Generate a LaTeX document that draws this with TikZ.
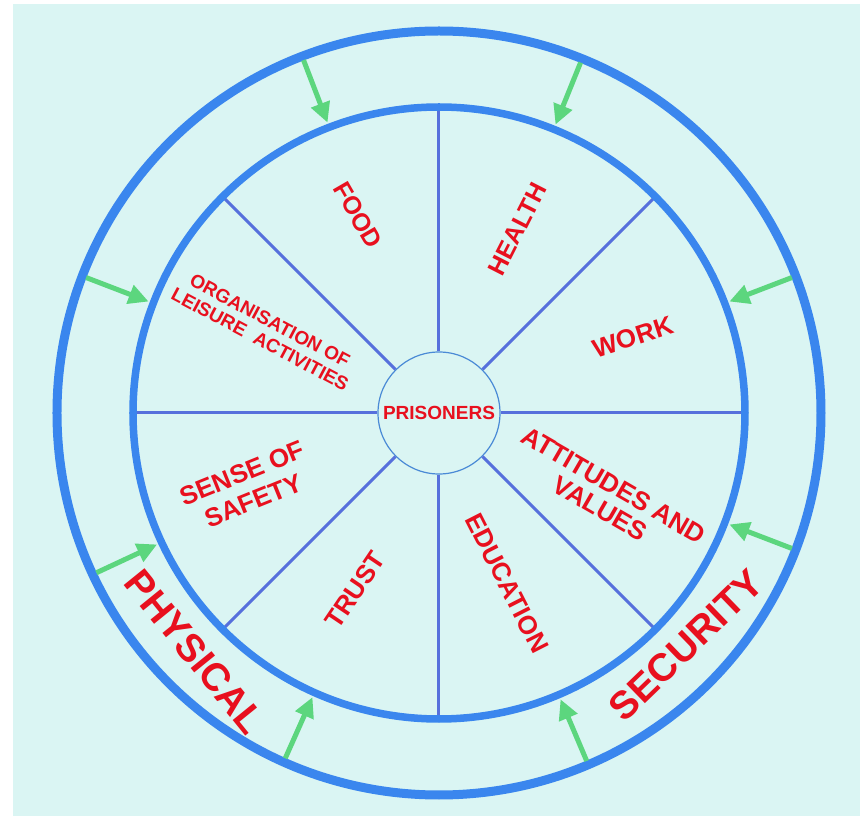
\documentclass[tikz,border=0pt]{standalone}
\usepackage{fontspec}
\setmainfont{Liberation Sans}
\usetikzlibrary{arrows.meta}
\definecolor{bgcyan}{HTML}{DAF5F3}
\definecolor{ringblue}{HTML}{3A86EE}
\definecolor{spokeblue}{HTML}{5670DC}
\definecolor{hubblue}{HTML}{4A8AD6}
\definecolor{arrowgreen}{HTML}{5CD67E}
\definecolor{labelred}{HTML}{E8101E}
\newcommand{\fs}[1]{\fontsize{#1}{1.2\dimexpr#1pt\relax}\selectfont}

\begin{document}
\begin{tikzpicture}[x=1pt,y=1pt,
  redlabel/.style={text=labelred,inner sep=0pt,align=center},
  spoke/.style={draw=spokeblue,line width=3pt},
  inarrow/.style={draw=arrowgreen,line width=5pt,-{Triangle[length=20pt,width=19pt]}}]
  \useasboundingbox (-439,-403) rectangle (421,413);
  \fill[bgcyan] (-426,409) rectangle (421,-403);

  % centre and spokes
  \node[circle,draw=hubblue,line width=1.2pt,minimum size=122pt,inner sep=0pt,
        text=labelred,font=\bfseries\fs{19}] (hub) at (0,0) {PRISONERS};
  \foreach \a in {0,45,...,315}
    \draw[spoke] (hub.\a) -- (\a:306pt);

  % rings
  \draw[ringblue,line width=7.5pt] (0,0) circle (306pt);
  \draw[ringblue,line width=9pt] (0,0) circle (382pt);

  % arrows from the outer ring
  \foreach \a in {21,68,111,159,205,246,293,339} {
    \coordinate (out\a) at (\a:378pt);
    \coordinate (in\a) at (\a:311pt);
    \draw[inarrow] (out\a) -- (in\a);
  }

  % sectors
  \node[redlabel,font=\bfseries\fs{25},rotate=-60] (food) at (-81,198) {FOOD};
  \node[redlabel,font=\bfseries\fs{25},rotate=63] (health) at (78,184) {HEALTH};
  \node[redlabel,font=\bfseries\fs{26},rotate=18] (work) at (194,76) {WORK};
  \node[redlabel,font=\bfseries\fontsize{19}{21}\selectfont,rotate=-28] (leisure) at (-174,83)
    {ORGANISATION OF\\LEISURE~~ACTIVITIES};
  \node[redlabel,font=\bfseries\fontsize{26}{27}\selectfont,rotate=-30] (values) at (168,-84)
    {ATTITUDES AND\\VALUES};
  \node[redlabel,font=\bfseries\fs{26},rotate=-63] (education) at (68,-170) {EDUCATION};
  \node[redlabel,font=\bfseries\fs{26},rotate=56] (trust) at (-84,-177) {TRUST};
  \node[redlabel,font=\bfseries\fontsize{26}{30}\selectfont,rotate=22] (safety) at (-191,-74)
    {SENSE OF\\SAFETY};

  % ring words
  \node[redlabel,font=\bfseries\fs{39},rotate=-51] (physical) at (-244,-239) {PHYSICAL};
  \node[redlabel,font=\bfseries\fs{39},rotate=44] (security) at (247,-232) {SECURITY};
\end{tikzpicture}
\end{document}
